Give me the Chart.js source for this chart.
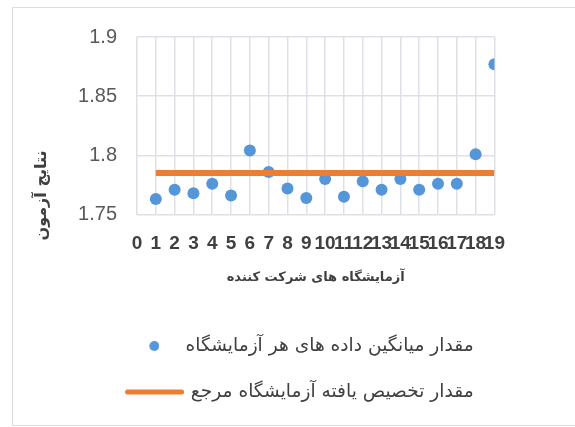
<!DOCTYPE html>
<html>
<head>
<meta charset="utf-8">
<script src="https://cdn.jsdelivr.net/npm/chart.js@4"></script>
<style>
  html, body { margin: 0; padding: 0; background: #fff; overflow: hidden; }
  #frame {
    position: absolute; left: 12px; top: 7px;
    width: 600px; height: 419px;
    border: 1px solid #dcdcdc; box-sizing: border-box;
  }
  #chart { position: absolute; left: 13px; top: 5px; }
</style>
</head>
<body>
<div id="frame"></div>
<canvas id="chart" width="510" height="420"></canvas>
<script>
//----------------------
// Data
//----------------------

const labNumbers = [1, 2, 3, 4, 5, 6, 7, 8, 9, 10, 11, 12, 13, 14, 15, 16, 17, 18, 19];
const labMeans = [1.763, 1.771, 1.768, 1.776, 1.766, 1.804, 1.786, 1.772, 1.764, 1.780,
                  1.765, 1.778, 1.771, 1.780, 1.771, 1.776, 1.776, 1.801, 1.877];
const refValue = 1.785;
const yTicks = [1.75, 1.8, 1.85, 1.9];

const seriesNames = ['مقدار میانگین داده های هر آزمایشگاه', 'مقدار تخصیص یافته آزمایشگاه مرجع'];
const xTitle = 'آزمایشگاه های شرکت کننده';
const yTitle = 'نتایج آزمون';

const blue = '#5596d8';
const orange = '#ed7d31';
const arabicFont = '"DejaVu Sans", sans-serif';

//----------------------
// Legend dot (small round marker, nudged toward the text)
//----------------------

const dot = document.createElement('canvas');
dot.width = 20;
dot.height = 12;
const dctx = dot.getContext('2d');
dctx.fillStyle = blue;
dctx.beginPath();
dctx.arc(15, 6, 5, 0, Math.PI * 2);
dctx.fill();

// y axis title drawn by hand so it can sit low like the original
const yTitlePlugin = {
    id: 'yTitle',
    afterDraw(chart) {
        const c = chart.ctx;
        const area = chart.chartArea;
        c.save();
        c.translate(area.left - 95, area.bottom - 19);
        c.rotate(-Math.PI / 2);
        c.font = 'bold 16px ' + arabicFont;
        c.fillStyle = '#404040';
        c.textAlign = 'center';
        c.textBaseline = 'middle';
        c.fillText(yTitle, 0, 0);
        c.restore();
    }
};

//----------------------
// Chart
//----------------------

const ctx = document.getElementById('chart').getContext('2d');
const chart = new Chart(ctx, {
    type: 'scatter',
    data: {
        datasets: [{
            label: seriesNames[0],
            data: labNumbers.map((n, i) => ({ x: n, y: labMeans[i] })),
            backgroundColor: blue,
            borderColor: blue,
            borderWidth: 0,
            pointRadius: 6,
            order: 1
        }, {
            type: 'line',
            label: seriesNames[1],
            data: [
                { x: labNumbers[0], y: refValue },
                { x: labNumbers[labNumbers.length - 1], y: refValue }
            ],
            showLine: true,
            borderColor: orange,
            backgroundColor: orange,
            borderWidth: 6,
            pointRadius: 0,
            fill: false,
            order: 0
        }]
    },
    options: {
        responsive: false,
        animation: false,
        devicePixelRatio: 1,
        layout: { padding: { left: 0, right: 22, top: 0, bottom: 13.7 } },
        scales: {
            x: {
                type: 'linear',
                min: 0,
                max: 19,
                border: { display: false },
                grid: { color: '#dde1e7', lineWidth: 1.5, drawTicks: false },
                ticks: {
                    stepSize: 1,
                    autoSkip: false,
                    maxRotation: 0,
                    minRotation: 0,
                    padding: 18,
                    color: '#404040',
                    font: { family: '"Liberation Sans", sans-serif', size: 19, weight: 'bold' }
                },
                title: {
                    display: true,
                    text: xTitle,
                    color: '#404040',
                    font: { family: arabicFont, size: 13, weight: 'bold' },
                    padding: { top: -3.1, bottom: 23.5 }
                }
            },
            y: {
                min: yTicks[0],
                max: yTicks[yTicks.length - 1],
                border: { display: false },
                grid: { color: '#dde1e7', lineWidth: 1.5, drawTicks: false },
                afterFit: (scale) => { scale.width = 124; },
                afterBuildTicks: (scale) => { scale.ticks = yTicks.map(v => ({ value: v })); },
                ticks: {
                    padding: 20,
                    color: '#595959',
                    font: { family: '"Liberation Sans", sans-serif', size: 20 },
                    callback: (v) => String(+v.toFixed(2))
                }
            }
        },
        plugins: {
            tooltip: { enabled: false },
            legend: {
                position: 'bottom',
                align: 'end',
                labels: {
                    usePointStyle: true,
                    pointStyleWidth: 54,
                    padding: 27.4,
                    color: '#404040',
                    font: { family: arabicFont, size: 18.6 },
                    generateLabels(chart) {
                        const items = Chart.defaults.plugins.legend.labels.generateLabels(chart);
                        items.sort((a, b) => a.datasetIndex - b.datasetIndex);
                        items.forEach(it => {
                            if (it.datasetIndex === 0) {
                                it.pointStyle = dot;
                            } else {
                                it.pointStyle = 'line';
                                it.strokeStyle = orange;
                                it.lineWidth = 5;
                                it.lineCap = 'round';
                            }
                        });
                        return items;
                    }
                }
            }
        }
    },
    plugins: [yTitlePlugin]
});
</script>
</body>
</html>
